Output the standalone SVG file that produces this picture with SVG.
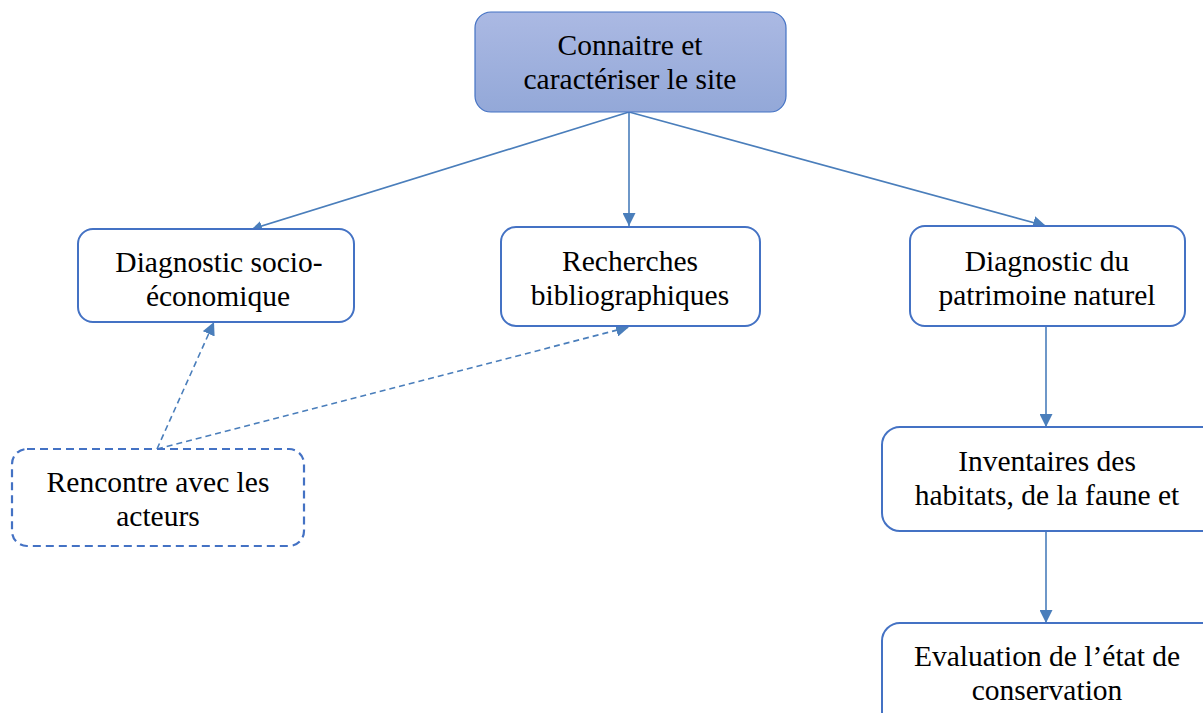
<svg xmlns="http://www.w3.org/2000/svg" width="1203" height="713" viewBox="0 0 1203 713">
<style>
.box{fill:#fff;stroke:#4472c4;stroke-width:2}
.dash{fill:#fff;stroke:#4472c4;stroke-width:2.2;stroke-dasharray:8 5}
.t{font-family:"Liberation Serif","Times New Roman",serif;font-size:29.5px;fill:#000;text-anchor:middle}
.c{stroke:#4a7ebb;stroke-width:1.6;fill:none}
.cd{stroke:#4a7ebb;stroke-width:1.6;fill:none;stroke-dasharray:6 4}
</style>
<defs>
<linearGradient id="g" x1="0" y1="0" x2="0" y2="1">
<stop offset="0" stop-color="#abb9e3"/>
<stop offset="1" stop-color="#93a8d8"/>
</linearGradient>
<marker id="a" viewBox="0 0 10 10" refX="10" refY="5" markerWidth="10" markerHeight="10" markerUnits="userSpaceOnUse" orient="auto">
<path d="M0,0 L10,5 L0,10 z" fill="#4a7ebb"/>
</marker>
<marker id="b" viewBox="0 0 10 10" refX="10" refY="5" markerWidth="13" markerHeight="13" markerUnits="userSpaceOnUse" orient="auto">
<path d="M0,0 L10,5 L0,10 z" fill="#4a7ebb"/>
</marker>
</defs>
<g id="connectors">
<line class="c" x1="629" y1="112" x2="252" y2="229" marker-end="url(#a)"/>
<line class="c" x1="629" y1="112" x2="629" y2="226" marker-end="url(#b)"/>
<line class="c" x1="629" y1="112" x2="1046" y2="226" marker-end="url(#b)"/>
<line class="c" x1="1046" y1="326" x2="1046" y2="427" marker-end="url(#b)"/>
<line class="c" x1="1046" y1="531" x2="1046" y2="623" marker-end="url(#b)"/>
<line class="cd" x1="157" y1="449" x2="214" y2="322" marker-end="url(#b)"/>
<line class="cd" x1="157" y1="449" x2="629" y2="327" marker-end="url(#b)"/>
</g>
<g id="n1">
<rect x="475" y="12" width="311" height="100" rx="16" fill="url(#g)" stroke="#4472c4" stroke-width="1.2"/>
<text class="t" x="630" y="55">Connaitre et</text>
<text class="t" x="630" y="89">caractériser le site</text>
</g>
<g id="n2">
<rect class="box" x="78" y="229" width="276" height="93" rx="15"/>
<text class="t" x="219" y="272">Diagnostic socio-</text>
<text class="t" x="218" y="306">économique</text>
</g>
<g id="n3">
<rect class="box" x="501" y="227" width="259" height="99" rx="15"/>
<text class="t" x="630" y="271">Recherches</text>
<text class="t" x="630" y="305">bibliographiques</text>
</g>
<g id="n4">
<rect class="box" x="910" y="226" width="275" height="100" rx="15"/>
<text class="t" x="1047" y="271">Diagnostic du</text>
<text class="t" x="1047" y="305">patrimoine naturel</text>
</g>
<g id="n5">
<rect class="box" x="882" y="427" width="340" height="104" rx="18"/>
<text class="t" x="1047" y="471">Inventaires des</text>
<text class="t" x="1047" y="505">habitats, de la faune et</text>
</g>
<g id="n6">
<rect class="box" x="882" y="623" width="340" height="110" rx="18"/>
<text class="t" x="1047" y="666">Evaluation de l’état de</text>
<text class="t" x="1047" y="700">conservation</text>
</g>
<g id="n7">
<rect class="dash" x="12" y="449" width="292" height="97" rx="15"/>
<text class="t" x="158" y="492">Rencontre avec les</text>
<text class="t" x="158" y="526">acteurs</text>
</g>
</svg>
